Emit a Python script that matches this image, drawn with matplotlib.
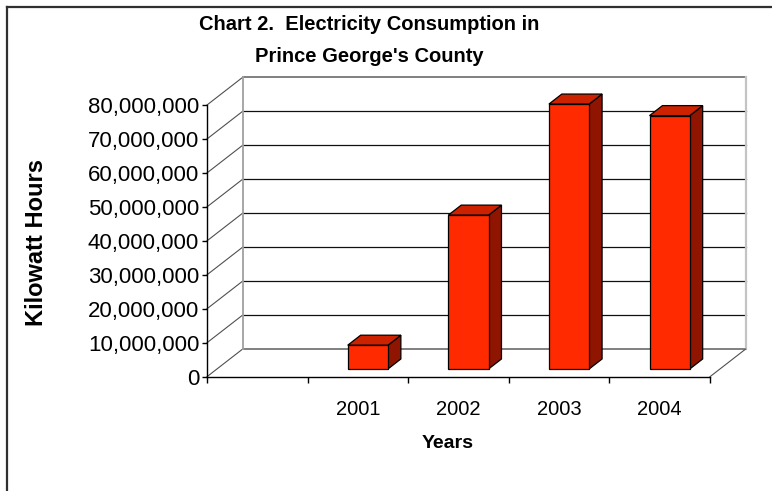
import numpy as np
import matplotlib
matplotlib.use("Agg")
import matplotlib.pyplot as plt
from matplotlib.patches import Polygon
from matplotlib.lines import Line2D
from matplotlib.ticker import FuncFormatter

plt.rcParams['font.family'] = ['Liberation Sans', 'DejaVu Sans']

# Data
categories = ['', '2001', '2002', '2003', '2004']
kwh = [np.nan, 7.0e6, 45.3e6, 78.0e6, 74.6e6]
y_ticks = [0, 10e6, 20e6, 30e6, 40e6, 50e6, 60e6, 70e6, 80e6]

# 3-D look: depth offsets of the back wall in data units
DX, DY = 0.355, 8.16e6
# bar slab sits between these depth fractions
D_FRONT, D_BACK = 0.278, 0.64
BAR_W = 0.4

FRONT = '#FF2A00'
TOP = '#CC2200'
SIDE = '#8F1500'

W, H = 772, 491
fig = plt.figure(figsize=(W / 100, H / 100), dpi=100)
ax = fig.add_axes([207 / W, 1 - 376.7 / H, 503 / W, 271.7 / H])
n = len(categories)
ax.set_xlim(0, n)
ax.set_ylim(0, y_ticks[-1])

for s in ('top', 'right'):
    ax.spines[s].set_visible(False)
for s in ('left', 'bottom'):
    ax.spines[s].set_color('black')
    ax.spines[s].set_linewidth(1.0)
    ax.spines[s].set_zorder(5)

ax.set_yticks(y_ticks)
ax.yaxis.set_major_formatter(FuncFormatter(lambda v, p: f'{v:,.0f}'))
ax.tick_params(axis='y', direction='out', length=3.6, width=1, pad=2,
               labelsize=16, colors='black')

ax.set_xticks(np.arange(0, n + 1))
ax.set_xticklabels([])
ax.set_xticks(np.arange(n) + 0.5, minor=True)
ax.set_xticklabels(categories, minor=True)
ax.tick_params(axis='x', which='major', direction='out', length=4.3, width=1)
ax.tick_params(axis='x', which='minor', length=0, pad=17, labelsize=14.5)

ax.patch.set_visible(False)

lc = dict(transform=ax.transData, clip_on=False)

# side wall diagonals and back wall gridlines
for v in y_ticks:
    ax.add_line(Line2D([0, DX], [v, v + DY], color='#505050', lw=0.8, zorder=1, **lc))
    edge = v in (y_ticks[0], y_ticks[-1])
    ax.add_line(Line2D([DX, n + DX], [v + DY, v + DY],
                       color='#808080' if edge else '#101010',
                       lw=1.4 if edge else 0.9, zorder=1, **lc))
ax.add_line(Line2D([DX, DX], [DY, y_ticks[-1] + DY], color='#a0a0a0', lw=1.3, zorder=1, **lc))
ax.add_line(Line2D([n + DX, n + DX], [DY, y_ticks[-1] + DY], color='#c4c4c4', lw=1.6, zorder=1, **lc))
ax.add_line(Line2D([n, n + DX], [0, DY], color='#505050', lw=0.8, zorder=1, **lc))

# 3-D bars
a1, b1 = D_FRONT * DX, D_FRONT * DY
a2, b2 = D_BACK * DX, D_BACK * DY
for i, v in enumerate(kwh):
    if np.isnan(v):
        continue
    x0 = i + 0.5 - BAR_W / 2
    x1 = i + 0.5 + BAR_W / 2
    front = [(x0 + a1, b1), (x1 + a1, b1), (x1 + a1, v + b1), (x0 + a1, v + b1)]
    top = [(x0 + a1, v + b1), (x1 + a1, v + b1), (x1 + a2, v + b2), (x0 + a2, v + b2)]
    side = [(x1 + a1, b1), (x1 + a2, b2), (x1 + a2, v + b2), (x1 + a1, v + b1)]
    for pts, col in ((side, SIDE), (top, TOP), (front, FRONT)):
        ax.add_patch(Polygon(pts, closed=True, facecolor=col, edgecolor='black',
                             lw=0.9, joinstyle='miter', zorder=3, clip_on=False))

# titles and axis labels
fig.text(369 / W, 1 - 25 / H, 'Chart 2.  Electricity Consumption in',
         ha='center', va='center', fontsize=14.5, fontweight='bold')
fig.text(369 / W, 1 - 56 / H, "Prince George's County",
         ha='center', va='center', fontsize=14.5, fontweight='bold')
fig.text(37 / W, 1 - 243 / H, 'Kilowatt Hours', rotation=90,
         ha='center', va='center', fontsize=17, fontweight='bold')
fig.text(448 / W, 1 - 443 / H, 'Years',
         ha='center', va='center', fontsize=14, fontweight='bold')

# chart area border
fig.add_artist(Line2D([7 / W, 7 / W], [0, 1 - 7 / H], color='#303030', lw=1.6,
                      transform=fig.transFigure))
fig.add_artist(Line2D([7 / W, 1], [1 - 7 / H, 1 - 7 / H], color='#303030', lw=1.6,
                      transform=fig.transFigure))

fig.savefig('out.png', dpi=100)
